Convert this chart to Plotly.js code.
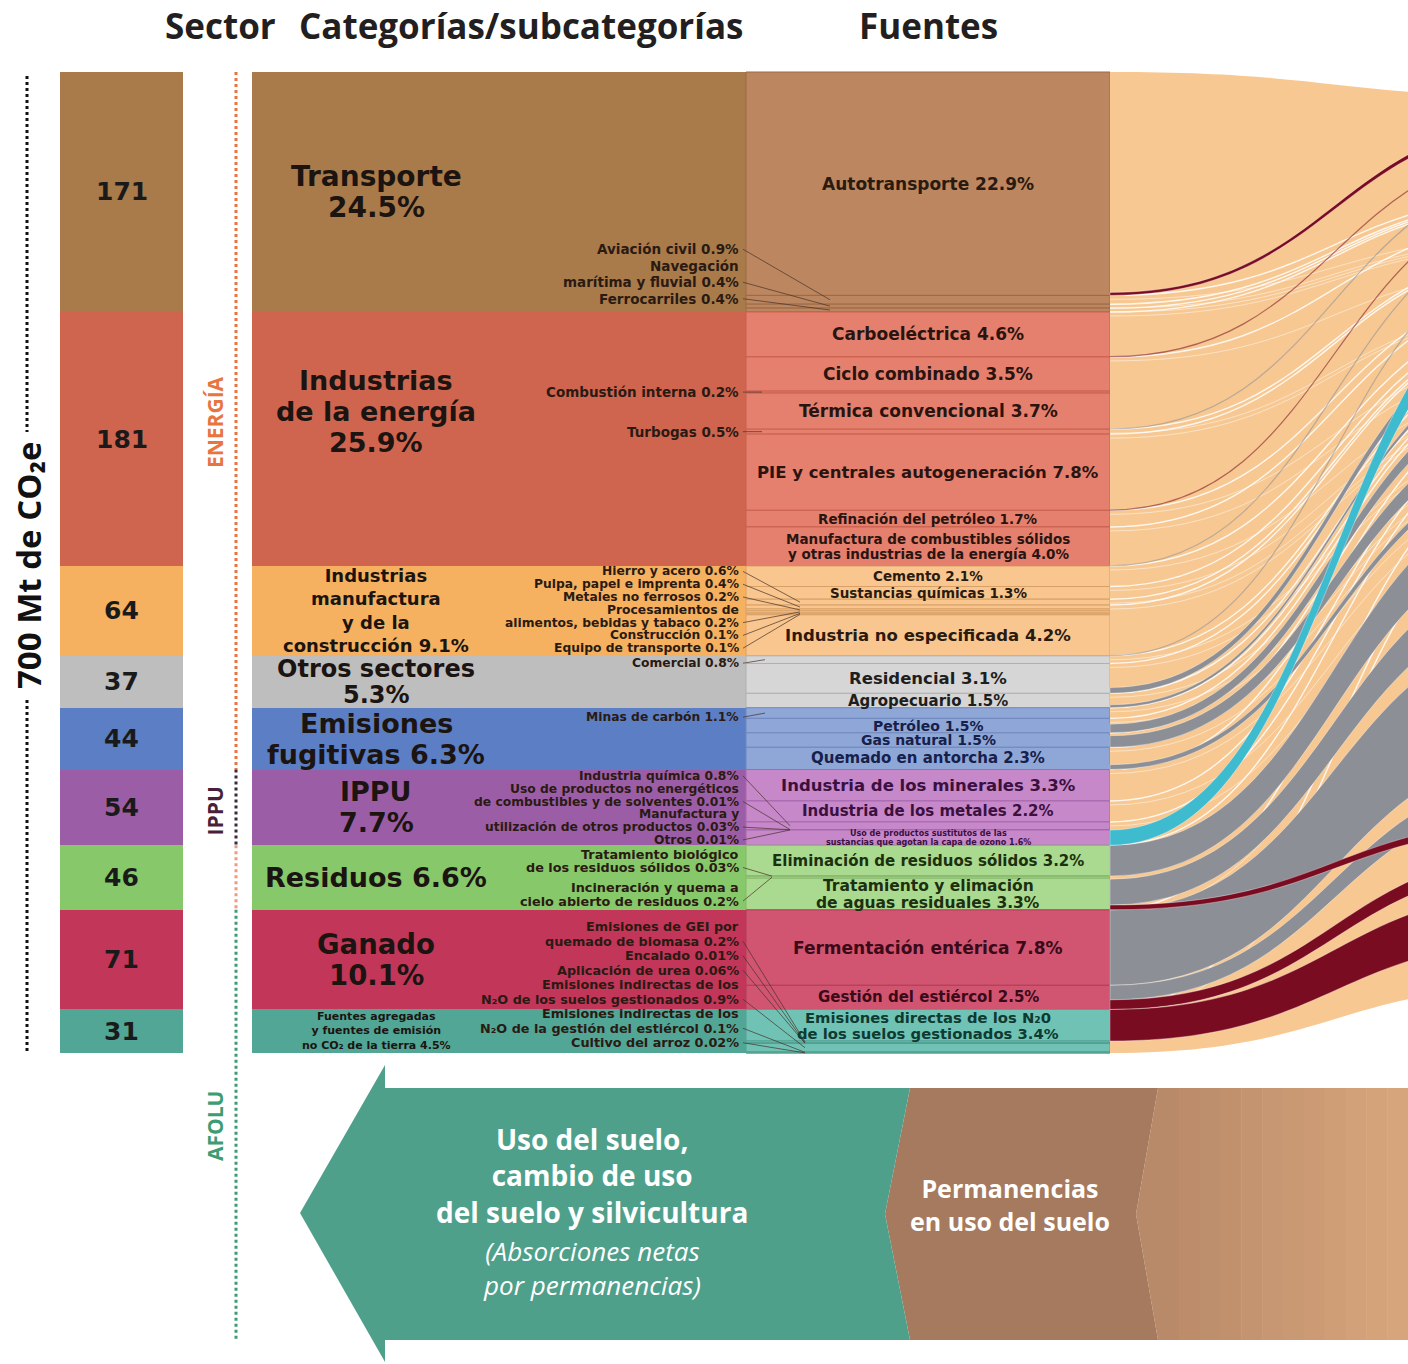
<!DOCTYPE html>
<html>
<head>
<meta charset="utf-8">
<script src="https://cdn.plot.ly/plotly-3.0.1.min.js"></script>
<style>
html,body{margin:0;padding:0;background:#ffffff;}
#chart{width:1408px;height:1364px;}
</style>
</head>
<body>
<div id="chart"></div>
<script>
// ================= DATA =================
// Sector totals (Mt CO2e)
const sectorValues = [171, 181, 64, 37, 44, 54, 46, 71, 31];
// Categories / subcategories
const categoryNames = ['Transporte', 'Industrias<br>de la energía', 'Industrias<br>manufactura<br>y de la<br>construcción',
  'Otros sectores', 'Emisiones<br>fugitivas', 'IPPU', 'Residuos', 'Ganado',
  'Fuentes agregadas<br>y fuentes de emisión<br>no CO₂ de la tierra'];
const categoryPct = [24.5, 25.9, 9.1, 5.3, 6.3, 7.7, 6.6, 10.1, 4.5];
// Sources (Fuentes)
const sourceNames = [
  'Autotransporte', 'Aviación civil', 'Navegación<br>marítima y fluvial', 'Ferrocarriles',
  'Carboeléctrica', 'Ciclo combinado', 'Combustión interna', 'Térmica convencional', 'Turbogas',
  'PIE y centrales autogeneración', 'Refinación del petróleo',
  'Manufactura de combustibles sólidos<br>y otras industrias de la energía',
  'Cemento', 'Sustancias químicas', 'Hierro y acero', 'Pulpa, papel e imprenta', 'Metales no ferrosos',
  'Procesamientos de<br>alimentos, bebidas y tabaco', 'Construcción', 'Equipo de transporte', 'Industria no especificada',
  'Comercial', 'Residencial', 'Agropecuario',
  'Minas de carbón', 'Petróleo', 'Gas natural', 'Quemado en antorcha',
  'Industria de los minerales', 'Industria de los metales', 'Industria química',
  'Uso de productos no energéticos<br>de combustibles y de solventes',
  'Manufactura y<br>utilización de otros productos', 'Otros',
  'Uso de productos sustitutos de las<br>sustancias que agotan la capa de ozono',
  'Eliminación de residuos sólidos', 'Tratamiento biológico<br>de los residuos sólidos',
  'Incineración y quema a<br>cielo abierto de residuos', 'Tratamiento y elimación<br>de aguas residuales',
  'Fermentación entérica', 'Gestión del estiércol',
  'Emisiones directas de los N₂0<br>de los suelos gestionados',
  'Emisiones de GEI por<br>quemado de biomasa', 'Encalado', 'Aplicación de urea',
  'Emisiones indirectas de los<br>N₂O de los suelos gestionados',
  'Emisiones indirectas de los<br>N₂O de la gestión del estiércol', 'Cultivo del arroz'
];
const sourcePct = [22.9, 0.9, 0.4, 0.4,
  4.6, 3.5, 0.2, 3.7, 0.5, 7.8, 1.7, 4.0,
  2.1, 1.3, 0.6, 0.4, 0.2, 0.2, 0.1, 0.1, 4.2,
  0.8, 3.1, 1.5,
  1.1, 1.5, 1.5, 2.3,
  3.3, 2.2, 0.8, 0.01, 0.03, 0.01, 1.6,
  3.2, 0.03, 0.2, 3.3,
  7.8, 2.5,
  3.4, 0.2, 0.01, 0.06, 0.9, 0.1, 0.02];
const sourceCategory = [0,0,0,0, 1,1,1,1,1,1,1,1, 2,2,2,2,2,2,2,2,2, 3,3,3, 4,4,4,4, 5,5,5,5,5,5,5, 6,6,6,6, 7,7, 8,8,8,8,8,8,8];
const sourceOnSide   = [0,1,1,1, 0,0,1,0,1,0,0,0, 0,0,1,1,1,1,1,1,0, 1,0,0, 1,0,0,0, 0,0,1,1,1,1,0, 0,1,1,0, 0,0, 0,1,1,1,1,1,1];
// Gas flows leaving the sources (estimated, % of total)
const flowSource = ['Autotransporte', 'Carboeléctrica', 'Térmica convencional', 'PIE y centrales autogeneración',
  'Manufactura de combustibles sólidos<br>y otras industrias de la energía', 'Industria no especificada',
  'Uso de productos sustitutos de las<br>sustancias que agotan la capa de ozono',
  'Residencial', 'Agropecuario',
  'Petróleo', 'Gas natural', 'Quemado en antorcha',
  'Eliminación de residuos sólidos', 'Tratamiento y elimación<br>de aguas residuales',
  'Fermentación entérica', 'Gestión del estiércol',
  'Tratamiento y elimación<br>de aguas residuales', 'Gestión del estiércol',
  'Emisiones directas de los N₂0<br>de los suelos gestionados'];
const flowGas = ['N2O','N2O','CH4','N2O','CH4','CH4','HFC','CH4','CH4','CH4','CH4','CH4','CH4','CH4','CH4','CH4','N2O','N2O','N2O'];
const flowPct = [0.3, 0.05, 0.05, 0.05, 0.05, 0.05, 1.6, 0.6, 0.3, 0.9, 1.2, 0.5, 3.2, 2.7, 7.8, 1.5, 0.5, 1.0, 3.4];

// ================= STYLE =================
const FONT = 'DejaVu Sans, Verdana, sans-serif';
const HFONT = 'Open Sans, Lato, DejaVu Sans, sans-serif';
const catColors  = ['#A97A4A','#CF654F','#F5B160','#BEBEBE','#5B7EC4','#9B5EA6','#86C86A','#C2365A','#52A696'];
const srcColors  = ['#BC8760','#E5806E','#F8C68E','#D6D6D6','#8FA7D7','#C688C9','#AADA8F','#D15571','#70C3B4'];
const srcLines   = ['#9C6A44','#C9604E','#D9A066','#B0B0B0','#6F88BE','#A868AC','#86B86C','#B03C58','#52A293'];
const srcText    = ['#2A1A10','#2A1410','#2A1A10','#1E1E1E','#16204A','#3A1040','#1C3010','#3A0A18','#0E3A32'];
const srcFont = [17,0,0,0, 17,17,0,17,0,16.5,13.5,13.5, 13.5,13.5,0,0,0,0,0,0,16.5, 0,16.5,15, 0,14,14,15,
  16.5,15,0,0,0,0,8, 15,0,0,15.5, 17,15, 14.8,0,0,0,0,0,0];
const catFont  = [28,27,18,24,27,27,27,27.5,11];
const catLineH = [31,31,21,26,31,31,31,31,12.8];
const catShift = [0,-28,0,0,0,0,0,0,0];
const catBreak = [1,1,0,1,0,1,0,1,0];
const catSingle = [0,0,1,0,0,0,0,0,1];
const sideMode = ['bottom','band','top','top','top','top','justify','none','bottom'];
const sideLineH = [16.5,0,12.8,12.8,12.8,12.8,13.5,0,14.5];
const sideFont = [13.5,13.5,12.3,12.3,12.3,12.3,12.8,12.3,12.8];
const sidePad = [5,0,-1,1,3,0,2,0,3];
const sideEndX = [830,762,800,765,765,790,772,0,805];
const gasColor = {CH4:'#8C8F95', HFC:'#3FBBCF', N2O:'#7A0C22'};

// ================= GEOMETRY =================
const W = 1408, H = 1364, TOP = 72;
const total = sectorValues.reduce((a,b)=>a+b,0);
const k = 981/total;                    // pixels per Mt
const yOf = py => (py - TOP)/k;         // pixel row -> axis value
const pyOf = v => TOP + v*k;            // axis value -> pixel row
const P = (x,py) => x + ',' + yOf(py);
const fmt = v => (v < 0.1 ? v.toFixed(2) : v.toFixed(1));

const secBase = []; let acc = 0;
sectorValues.forEach(v => { secBase.push(acc); acc += v; });
const catSum = sectorValues.map(()=>0);
sourcePct.forEach((p,j)=> catSum[sourceCategory[j]] += p);
const srcMt = sourcePct.map((p,j)=> p*sectorValues[sourceCategory[j]]/catSum[sourceCategory[j]]);
const srcBase = []; acc = 0;
srcMt.forEach(v => { srcBase.push(acc); acc += v; });

const annotations = [], shapes = [];
function label(text, x, py, size, color, extra) {
  const a = {text:text, x:x, y:yOf(py), xref:'x', yref:'y', showarrow:false, xanchor:'center', yanchor:'middle',
    borderpad:0, font:{family:FONT, size:size, color:color, weight:700}};
  if (extra) { for (const key in extra) { if (key === 'font') Object.assign(a.font, extra.font); else a[key] = extra[key]; } }
  annotations.push(a);
}
function lines(text, x, centerPy, size, color, lineH, extra) {
  const parts = text.split('<br>');
  const n = parts.length;
  parts.forEach((p,i) => label(p, x, centerPy + (i-(n-1)/2)*lineH, size, color, extra));
}

// ================= TRACES =================
const traces = [
  {type:'bar', x:sectorValues.map(()=>121.5), y:sectorValues, base:secBase, width:123,
   marker:{color:catColors, line:{width:0}}, hoverinfo:'skip', showlegend:false},
  {type:'bar', x:sectorValues.map(()=>499), y:sectorValues, base:secBase, width:494,
   marker:{color:catColors, line:{width:0}}, hoverinfo:'skip', showlegend:false},
  {type:'bar', x:srcMt.map(()=>928), y:srcMt, base:srcBase, width:364,
   marker:{color:sourceCategory.map(c=>srcColors[c]), line:{color:sourceCategory.map(c=>srcLines[c]), width:1}},
   hoverinfo:'skip', showlegend:false}
];

// ================= FLOW AREA =================
const X0 = 1110, X1 = 1560, XM = (X0+X1)/2;
const bez = (s0, e0, s1, e1) => 'M' + P(X0,s0) + ' C' + P(XM,s0) + ' ' + P(XM,e0) + ' ' + P(X1,e0) +
  ' L' + P(X1,e1) + ' C' + P(XM,e1) + ' ' + P(XM,s1) + ' ' + P(X0,s1) + ' Z';
const curve = (s, e) => 'M' + P(X0,s) + ' C' + P(XM,s) + ' ' + P(XM,e) + ' ' + P(X1,e);
const bottomPx = pyOf(total);
shapes.push({type:'path', xref:'x', yref:'y', path:bez(TOP, 97, bottomPx, 985), fillcolor:'#F7C892', line:{width:0}});
// white separators between CO2 streams
srcMt.forEach((v,j) => {
  if (j === 0 || v < 1.5 || srcMt[j-1] < 1.5) return;
  const s = pyOf(srcBase[j]);
  shapes.push({type:'path', xref:'x', yref:'y', path:curve(s, 100 + (s-TOP)*0.42), line:{color:'rgba(255,255,255,0.85)', width:1.4}});
  shapes.push({type:'path', xref:'x', yref:'y', path:curve(s+4, 112 + (s-TOP)*0.55), line:{color:'rgba(255,255,255,0.6)', width:0.8}});
});
// gas ribbons (they widen towards the gas column on the right)
const WIDEN = 1.6;
const flowIdx = flowSource.map(n => sourceNames.indexOf(n));
const flowThick = flowPct.map((p,i) => p*srcMt[flowIdx[i]]/sourcePct[flowIdx[i]]*k);
const flowS0 = new Array(flowPct.length);
const bySrc = {};
flowIdx.forEach((j,i) => { (bySrc[j] = bySrc[j] || []).push(i); });
Object.keys(bySrc).forEach(jk => {
  const j = +jk, list = bySrc[jk];
  const tot = list.reduce((s,i)=>s+flowThick[i],0);
  let cur = pyOf(srcBase[j]+srcMt[j]) - tot;
  list.forEach(i => { flowS0[i] = cur; cur += flowThick[i]; });
});
const E_TOP = 118, E_BOT = 940;
const endT = flowThick.map(t => Math.max(t*WIDEN, 1));
const sumT = endT.reduce((a,b)=>a+b,0);
const gap = (E_BOT - E_TOP - sumT)/(flowPct.length-1);
let ec = E_TOP;
const flowE0 = endT.map(t => { const e = ec; ec += t + gap; return e; });
const order = flowPct.map((_,i)=>i).sort((a,b)=> (flowGas[a]==='HFC') - (flowGas[b]==='HFC'));
order.forEach(i => {
  const t = flowThick[i], col = gasColor[flowGas[i]];
  if (t < 2) {
    shapes.push({type:'path', xref:'x', yref:'y', path:curve(flowS0[i]+t/2, flowE0[i]+t/2),
      line:{color:col, width:1.2}, opacity:0.55});
  } else {
    shapes.push({type:'path', xref:'x', yref:'y', path:bez(flowS0[i], flowE0[i], flowS0[i]+t, flowE0[i]+endT[i]),
      fillcolor:col, line:{color:'rgba(255,255,255,0.6)', width:0.6}});
  }
});

// ================= TEXT =================
// headers
label('Sector', 220, 25, 35, '#231f20', {font:{family:HFONT}});
label('Categorías/subcategorías', 521, 25, 35, '#231f20', {font:{family:HFONT}});
label('Fuentes', 928, 25, 35, '#231f20', {font:{family:HFONT}});
// total + dotted guide
label('700 Mt de CO₂e', 28, 566, 33, '#111', {textangle:-90, font:{family:HFONT}});
shapes.push({type:'line', xref:'x', yref:'y', x0:27, x1:27, y0:yOf(76), y1:yOf(432), line:{color:'#111', width:3, dash:'dot'}});
shapes.push({type:'line', xref:'x', yref:'y', x0:27, x1:27, y0:yOf(700), y1:yOf(1052), line:{color:'#111', width:3, dash:'dot'}});
// sector groups
const segs = [[0, secBase[5], '#E8753F'], [secBase[5], secBase[6], '#3A2A3A'], [secBase[6], secBase[7], '#EE9A80']];
segs.forEach(s => shapes.push({type:'line', xref:'x', yref:'y', x0:236, x1:236, y0:s[0], y1:s[1], line:{color:s[2], width:3, dash:'dot'}}));
shapes.push({type:'line', xref:'x', yref:'y', x0:236, x1:236, y0:secBase[7], y1:yOf(1340), line:{color:'#3E9C72', width:3, dash:'dot'}});
label('ENERGÍA', 215, 422, 21, '#E8753F', {textangle:-90, font:{family:HFONT}});
label('IPPU', 215, pyOf(secBase[5]+sectorValues[5]/2)+4, 21, '#4A1F3A', {textangle:-90, font:{family:HFONT}});
label('AFOLU', 215, 1126, 21, '#3E9C72', {textangle:-90, font:{family:HFONT}});

// sector values
sectorValues.forEach((v,i) => label(String(v), 121.5, pyOf(secBase[i]+v/2), 25, '#1a1a1a'));
// category labels
categoryNames.forEach((n,c) => {
  const t = n + (catBreak[c] ? '<br>' : ' ') + fmt(categoryPct[c]) + '%';
  const cy = pyOf(secBase[c]+sectorValues[c]/2) + catShift[c];
  if (catSingle[c]) label(t, 376, cy, catFont[c], '#1b1410');
  else lines(t, 376, cy, catFont[c], '#1b1410', catLineH[c]);
});
// main source labels
sourceNames.forEach((n,j) => {
  if (sourceOnSide[j]) return;
  const sz = srcFont[j];
  lines(n + ' ' + fmt(sourcePct[j]) + '%', 928, pyOf(srcBase[j]+srcMt[j]/2), sz, srcText[sourceCategory[j]], sz*1.1);
});
// side labels with leader lines
categoryNames.forEach((_,c) => {
  const items = sourceNames.map((_,j)=>j).filter(j => sourceCategory[j]===c && sourceOnSide[j]);
  if (!items.length || sideMode[c]==='none') return;
  const lh = sideLineH[c], pad = sidePad[c];
  const parts = items.map(j => (sourceNames[j] + ' ' + fmt(sourcePct[j]) + '%').split('<br>'));
  const topPx = pyOf(secBase[c]), botPx = pyOf(secBase[c]+sectorValues[c]);
  const totLines = parts.reduce((s,p)=>s+p.length,0);
  let cursor = topPx + pad, extraGap = 0;
  if (sideMode[c]==='bottom') cursor = botPx - pad - totLines*lh;
  if (sideMode[c]==='justify' && items.length > 1) extraGap = (botPx - topPx - 2*pad - totLines*lh)/(items.length-1);
  items.forEach((j,ii) => {
    const bandPy = pyOf(srcBase[j]+srcMt[j]/2);
    let lastPy;
    if (sideMode[c]==='band') {
      parts[ii].forEach((p,i) => { lastPy = bandPy + (i-(parts[ii].length-1)/2)*lh;
        label(p, 740, lastPy, sideFont[c], '#2a1a12', {xanchor:'right'}); });
    } else {
      parts[ii].forEach((p,i) => { lastPy = cursor + (i+0.5)*lh;
        label(p, 740, lastPy, sideFont[c], '#2a1a12', {xanchor:'right'}); });
      cursor += parts[ii].length*lh + extraGap;
    }
    shapes.push({type:'line', xref:'x', yref:'y', x0:743, y0:yOf(lastPy), x1:sideEndX[c], y1:yOf(bandPy),
      line:{color:'rgba(70,50,40,0.7)', width:1}});
  });
});

// ================= LAND USE ARROW =================
const gA = [185,138,105], gB = [215,165,124], nStrips = 12;
for (let i = 0; i < nStrips; i++) {
  const f = i/(nStrips-1);
  const col = 'rgb(' + gA.map((a,q)=>Math.round(a+(gB[q]-a)*f)).join(',') + ')';
  const xa = 1158 + i*(250/nStrips), xb = 1158 + (i+1)*(250/nStrips) + 0.5;
  shapes.push({type:'rect', xref:'x', yref:'y', x0:xa, x1:xb, y0:yOf(1088), y1:yOf(1340), fillcolor:col, line:{width:0}});
}
shapes.push({type:'path', xref:'x', yref:'y', path:'M'+P(1158,1088)+' L'+P(1136,1214)+' L'+P(1158,1340)+' Z',
  fillcolor:'rgb(185,138,105)', line:{width:0}});
shapes.push({type:'path', xref:'x', yref:'y',
  path:'M'+P(910,1088)+' L'+P(1158,1088)+' L'+P(1136,1214)+' L'+P(1158,1340)+' L'+P(910,1340)+' L'+P(885,1214)+' Z',
  fillcolor:'#A57A5E', line:{width:0}});
shapes.push({type:'path', xref:'x', yref:'y',
  path:'M'+P(300,1213)+' L'+P(385,1065)+' L'+P(385,1088)+' L'+P(910,1088)+' L'+P(885,1214)+' L'+P(910,1340)+
       ' L'+P(385,1340)+' L'+P(385,1362)+' Z',
  fillcolor:'#4FA08B', line:{width:0}});
label('Uso del suelo,<br>cambio de uso<br>del suelo y silvicultura', 592, 1175, 28, '#ffffff', {font:{family:HFONT}});
label('(Absorciones netas<br>por permanencias)', 592, 1268, 26, '#ffffff', {font:{family:HFONT, style:'italic', weight:400}});
label('Permanencias<br>en uso del suelo', 1010, 1204, 25, '#ffffff', {font:{family:HFONT}});

const layout = {
  width:W, height:H, margin:{l:0,r:0,t:0,b:0}, paper_bgcolor:'#ffffff', plot_bgcolor:'#ffffff',
  barmode:'overlay', bargap:0, showlegend:false,
  xaxis:{range:[0,W], visible:false, fixedrange:true},
  yaxis:{range:[yOf(H), yOf(0)], visible:false, fixedrange:true},
  annotations:annotations, shapes:shapes
};
Plotly.newPlot('chart', traces, layout, {displayModeBar:false, staticPlot:true});
</script>
</body>
</html>
